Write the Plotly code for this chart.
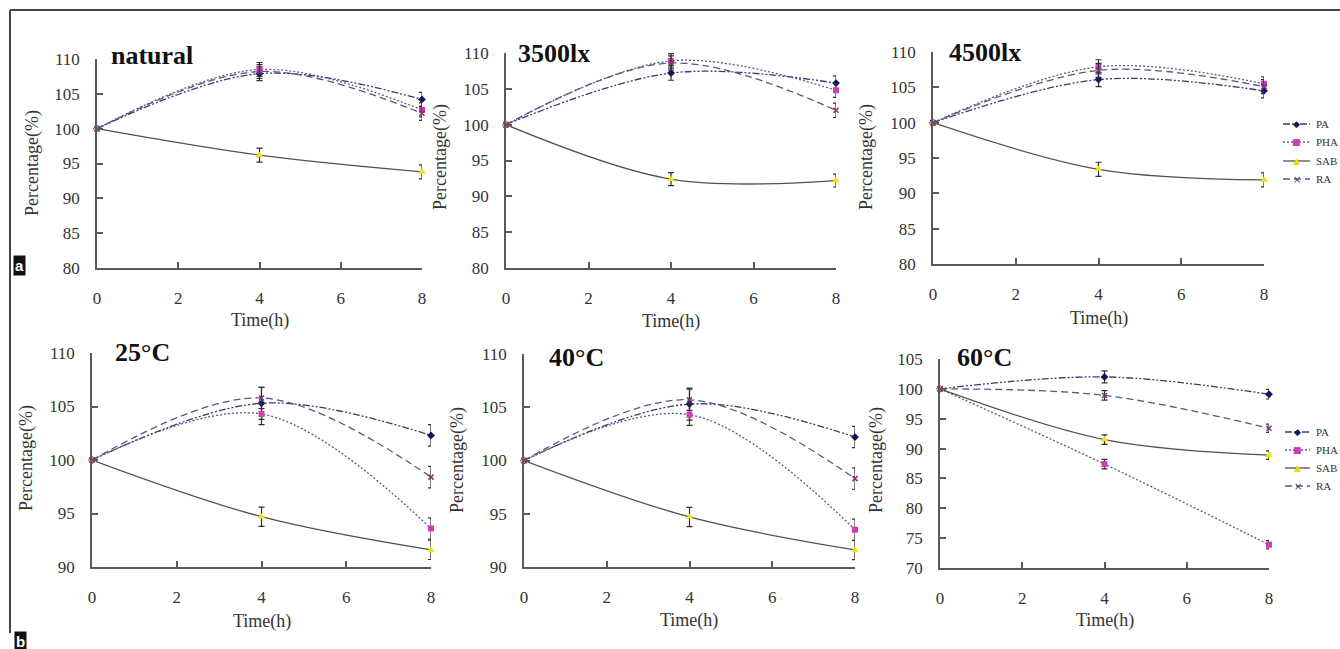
import plotly.graph_objects as go

W, H = 1340, 649

# ---------------- data ----------------
times = [0, 4, 8]
panel_titles = ["natural", "3500lx", "4500lx", "25°C", "40°C", "60°C"]
series_names = ["PA", "PHA", "SAB", "RA"]

pa = [[100, 107.9, 104.2], [100, 107.2, 105.8], [100, 106.1, 104.5],
      [100, 105.3, 102.3], [100, 105.3, 102.2], [100, 102.0, 99.1]]
pha = [[100, 108.5, 102.7], [100, 108.9, 104.8], [100, 107.9, 105.5],
       [100, 104.3, 93.6], [100, 104.3, 93.5], [100, 87.4, 73.9]]
sab = [[100, 96.2, 93.8], [100, 92.4, 92.2], [100, 93.4, 91.9],
       [100, 94.7, 91.6], [100, 94.7, 91.6], [100, 91.5, 88.9]]
ra = [[100, 108.2, 102.2], [100, 108.6, 102.0], [100, 107.4, 105.1],
      [100, 105.8, 98.4], [100, 105.7, 98.3], [100, 98.9, 93.4]]

pa_err = [[0, 1.0, 1.0], [0, 1.0, 1.0], [0, 1.0, 1.0], [0, 1.5, 1.0], [0, 1.5, 1.0], [0, 1.0, 0.8]]
pha_err = [[0, 1.0, 1.0], [0, 1.0, 1.0], [0, 1.0, 1.0], [0, 1.0, 1.0], [0, 1.0, 1.0], [0, 0.8, 0.7]]
sab_err = [[0, 1.0, 1.0], [0, 0.9, 0.9], [0, 1.0, 1.0], [0, 0.9, 0.9], [0, 0.9, 0.9], [0, 0.8, 0.7]]
ra_err = [[0, 1.0, 1.0], [0, 1.0, 1.0], [0, 1.0, 1.0], [0, 1.0, 1.0], [0, 1.0, 1.0], [0, 0.8, 0.7]]

y_ranges = [[80, 110], [80, 110], [80, 110], [90, 110], [90, 110], [70, 105]]
x_ticks = [0, 2, 4, 6, 8]

# ---------------- layout (pixels) ----------------
# (x at 0, x at 8, y top, y bottom)
boxes = [(97, 422, 59, 268), (506, 836, 53, 268), (933, 1264, 52, 264),
         (92, 431, 353, 567), (524, 855, 354, 567), (940, 1269, 359, 568)]
title_pos = [(152, 55), (554, 53), (985, 52), (142, 352), (576, 357), (985, 357)]
ytitle_pos = [(32, 163), (440, 157), (866, 157), (26, 458), (457, 460), (876, 460)]
xtitle_pos = [(260, 320), (671, 321), (1099, 318), (262, 621), (689, 620), (1105, 620)]
# legend blocks: (line start, line end, text start, row centres)
legend_blocks = [(1283, 1310, 1314, [124, 142, 161, 179]),
                 (1285, 1310, 1314, [432, 450, 468, 486])]

def fx(px):
    return px / W

def fy(py):
    return 1 - py / H

styles = {
    "PA": dict(line=dict(color="#3c3c6e", width=1.3, dash="7px,2px,2px,2px,2px,2px"),
               marker=dict(symbol="diamond", color="#141460", size=6)),
    "PHA": dict(line=dict(color="#5a5a80", width=1.3, dash="2px,2px"),
                marker=dict(symbol="square", color="#d03cb4", size=6)),
    "SAB": dict(line=dict(color="#505050", width=1.3),
                marker=dict(symbol="triangle-up", color="#f2e400", size=7)),
    "RA": dict(line=dict(color="#5a5a78", width=1.3, dash="7px,4px"),
               marker=dict(symbol="x-thin", color="#80307a", size=5,
                           line=dict(color="#80307a", width=1.5))),
}
legend_glyphs = {"PA": ("◆", "#141460", 9), "PHA": ("■", "#d03cb4", 9),
                 "SAB": ("▲", "#e8dc00", 9), "RA": ("×", "#80307a", 10)}
data_by_series = {"PA": (pa, pa_err), "PHA": (pha, pha_err), "SAB": (sab, sab_err), "RA": (ra, ra_err)}

fig = go.Figure()
serif = "Liberation Serif, Times New Roman, serif"

for i in range(6):
    ax = "" if i == 0 else str(i + 1)
    for name in series_names:
        vals, errs = data_by_series[name]
        st = styles[name]
        fig.add_trace(go.Scatter(
            x=times, y=vals[i], name=name, mode="lines+markers",
            xaxis="x" + ax, yaxis="y" + ax,
            line=dict(shape="spline", **st["line"]),
            marker=st["marker"],
            error_y=dict(type="data", array=errs[i], color="#303030", thickness=1.2, width=3),
            cliponaxis=False, showlegend=False,
        ))
    x0, x1, yt, yb = boxes[i]
    axis_common = dict(showline=True, linecolor="#5a5a5a", linewidth=1.5, showgrid=False,
                       zeroline=False, ticks="inside", ticklen=6, tickcolor="#5a5a5a",
                       tickwidth=1.5, automargin=False,
                       tickfont=dict(family=serif, size=17, color="#333333"))
    fig.layout["xaxis" + ax] = dict(domain=[fx(x0), fx(x1)], range=[0, 8], tickvals=x_ticks,
                                    anchor="y" + ax, ticklabelstandoff=14, **axis_common)
    fig.layout["yaxis" + ax] = dict(domain=[fy(yb), fy(yt)], range=y_ranges[i], dtick=5,
                                    anchor="x" + ax, ticklabelstandoff=12, **axis_common)

annotations = []
shapes = [
    dict(type="line", xref="paper", yref="paper", x0=fx(10), x1=fx(10), y0=fy(10), y1=fy(633),
         line=dict(color="#444444", width=2)),
    dict(type="line", xref="paper", yref="paper", x0=fx(10), x1=1.0, y0=fy(10), y1=fy(10),
         line=dict(color="#444444", width=2)),
]

for i in range(6):
    tx, ty = title_pos[i]
    annotations.append(dict(text="<b>%s</b>" % panel_titles[i], x=fx(tx), y=fy(ty), xref="paper",
                            yref="paper", showarrow=False, xanchor="center", yanchor="middle",
                            font=dict(family=serif, size=26, color="#111111")))
    yx, yy = ytitle_pos[i]
    annotations.append(dict(text="Percentage(%)", x=fx(yx), y=fy(yy), xref="paper", yref="paper",
                            showarrow=False, textangle=-90, xanchor="center", yanchor="middle",
                            font=dict(family=serif, size=18, color="#333333")))
    xx, xy = xtitle_pos[i]
    annotations.append(dict(text="Time(h)", x=fx(xx), y=fy(xy), xref="paper", yref="paper",
                            showarrow=False, xanchor="center", yanchor="middle",
                            font=dict(family=serif, size=18, color="#333333")))

# hand-drawn legends placed at the right edge of the picture
for lx0, lx1, ltx, rows in legend_blocks:
    for name, ry in zip(series_names, rows):
        st = styles[name]["line"]
        shapes.append(dict(type="line", xref="paper", yref="paper", x0=fx(lx0), x1=fx(lx1),
                           y0=fy(ry), y1=fy(ry),
                           line=dict(color=st["color"], width=st["width"], dash=st.get("dash", "solid"))))
        g, gc, gs = legend_glyphs[name]
        annotations.append(dict(text=g, x=fx((lx0 + lx1) / 2), y=fy(ry), xref="paper", yref="paper",
                                showarrow=False, xanchor="center", yanchor="middle",
                                font=dict(family="DejaVu Sans", size=gs, color=gc)))
        annotations.append(dict(text=name, x=fx(ltx), y=fy(ry), xref="paper", yref="paper",
                                showarrow=False, xanchor="left", yanchor="middle",
                                font=dict(family=serif, size=11, color="#333333")))

for lab, cx, cy in (("a", 19.5, 265), ("b", 20, 641)):
    annotations.append(dict(text="<b>%s</b>" % lab, x=fx(cx), y=fy(cy), xref="paper", yref="paper",
                            showarrow=False, xanchor="center", yanchor="middle", bgcolor="#111111",
                            font=dict(family="Liberation Sans, Arial, sans-serif", size=15, color="white"),
                            borderpad=1))

fig.update_layout(
    width=W, height=H, margin=dict(l=0, r=0, t=0, b=0, autoexpand=False),
    paper_bgcolor="white", plot_bgcolor="white", showlegend=False,
    annotations=annotations, shapes=shapes,
)

fig.write_html("out.html", config={"displayModeBar": False},
               post_script="document.body.style.margin='0';document.body.style.overflow='hidden';")
